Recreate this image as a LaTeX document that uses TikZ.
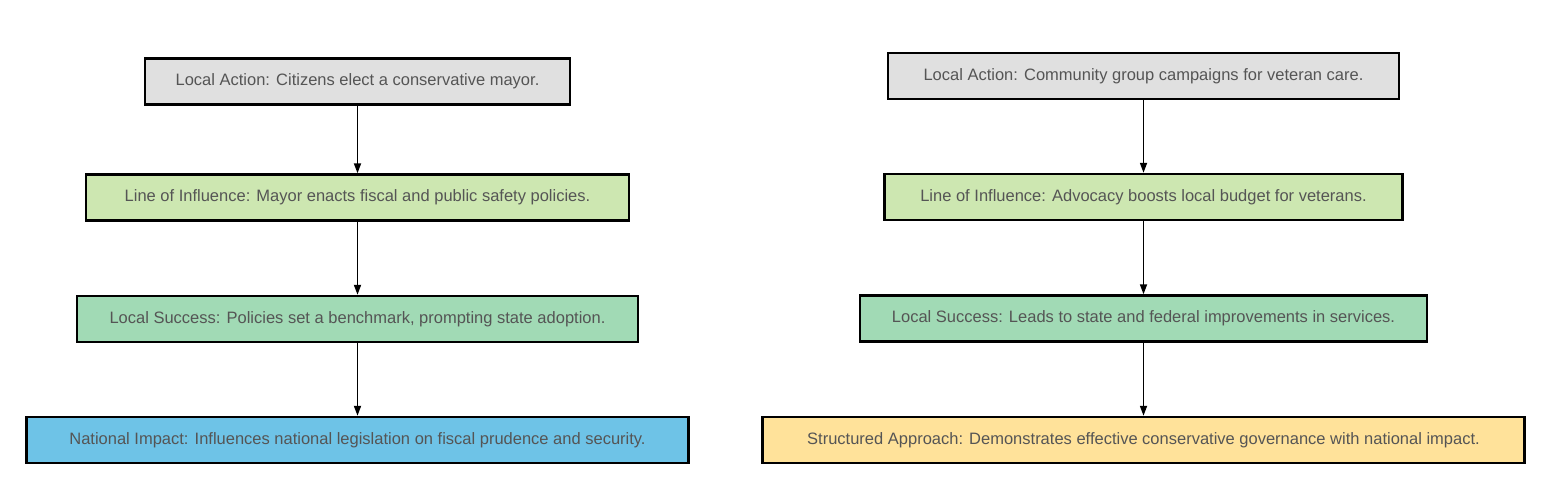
\documentclass[tikz,border=0pt]{standalone}
\usepackage{fontspec}
\setmainfont{Liberation Sans}
\usetikzlibrary{arrows.meta,positioning}
\definecolor{actgray}{HTML}{E0E0E0}
\definecolor{inflgreen}{HTML}{CDE7B1}
\definecolor{succgreen}{HTML}{A1DAB5}
\definecolor{impblue}{HTML}{6EC3E7}
\definecolor{apryellow}{HTML}{FFE29A}
\definecolor{txtgray}{HTML}{555555}
\begin{document}
\begin{tikzpicture}[x=1pt,y=-1pt,
  fbox/.style={rectangle,draw=black,line width=2.4pt,minimum height=46pt,
               inner sep=0pt,font=\fontsize{16.5}{19}\selectfont,text=txtgray},
  farrow/.style={-{Triangle[length=10pt,width=7pt]},line width=1.7pt}]
\useasboundingbox (0,0) rectangle (1553,495);
% left column
\node[fbox,fill=actgray,minimum width=425pt]   (l1) at (357.5,81.5) {Local Action: Citizens elect a conservative mayor.};
\node[fbox,fill=inflgreen,minimum width=543pt] (l2) at (357.5,197.5) {Line of Influence: Mayor enacts fiscal and public safety policies.};
\node[fbox,fill=succgreen,minimum width=561pt] (l3) at (357.5,319) {Local Success: Policies set a benchmark, prompting state adoption.};
\node[fbox,fill=impblue,minimum width=662pt]   (l4) at (357.5,440) {National Impact: Influences national legislation on fiscal prudence and security.};
\draw[farrow] (l1.south)--(l2.north);
\draw[farrow] (l2.south)--(l3.north);
\draw[farrow] (l3.south)--(l4.north);
% right column
\node[fbox,fill=actgray,minimum width=511pt]   (r1) at (1143.5,76) {Local Action: Community group campaigns for veteran care.};
\node[fbox,fill=inflgreen,minimum width=518pt] (r2) at (1143.5,197) {Line of Influence: Advocacy boosts local budget for veterans.};
\node[fbox,fill=succgreen,minimum width=567pt] (r3) at (1143.5,318.5) {Local Success: Leads to state and federal improvements in services.};
\node[fbox,fill=apryellow,minimum width=762pt] (r4) at (1143.5,440) {Structured Approach: Demonstrates effective conservative governance with national impact.};
\draw[farrow] (r1.south)--(r2.north);
\draw[farrow] (r2.south)--(r3.north);
\draw[farrow] (r3.south)--(r4.north);
\end{tikzpicture}
\end{document}
